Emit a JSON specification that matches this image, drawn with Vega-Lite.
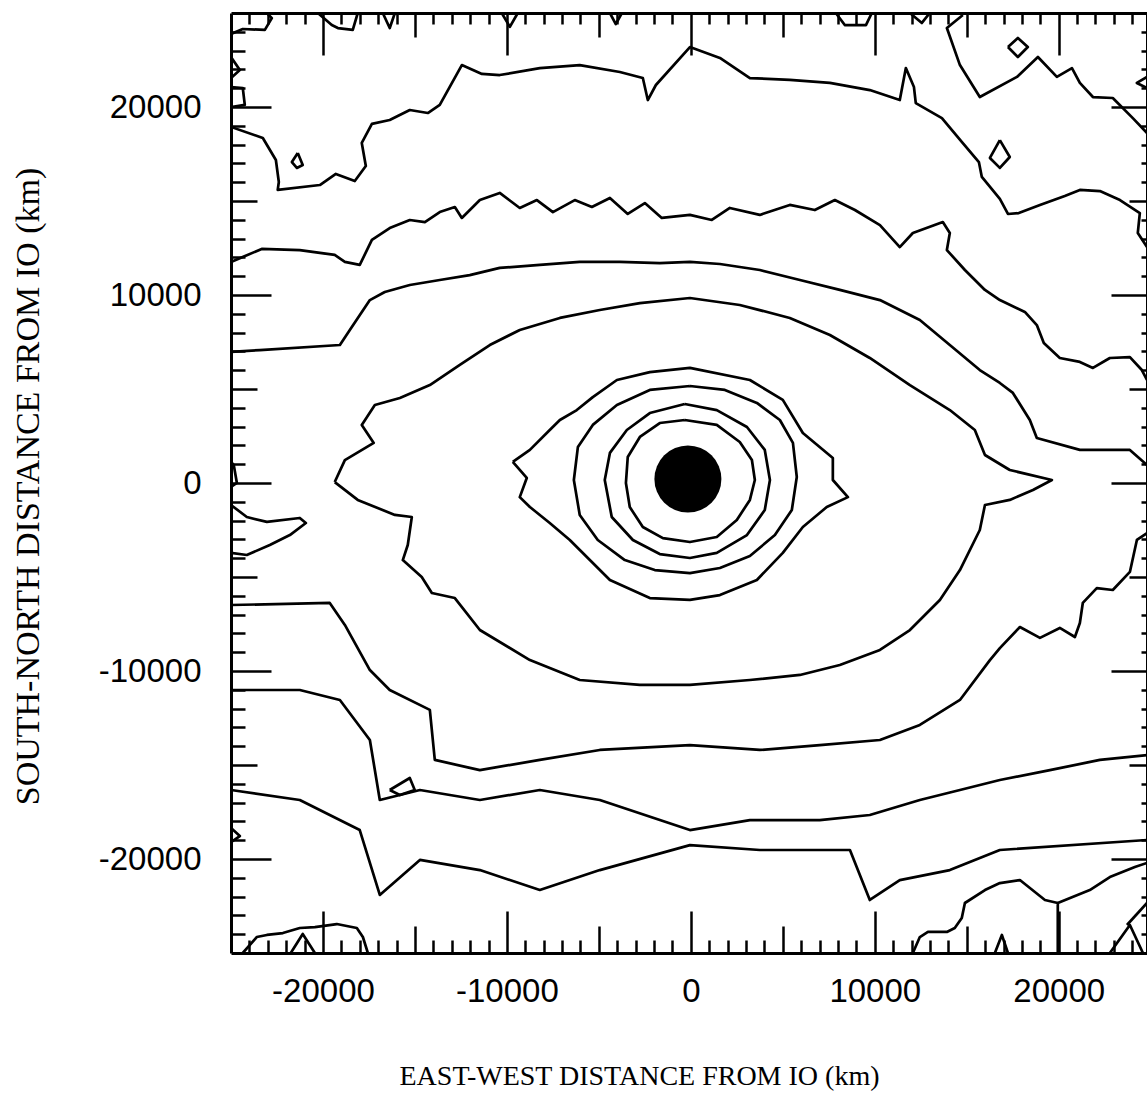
{
  "$schema": "https://vega.github.io/schema/vega-lite/v6.json",
  "width": 916,
  "height": 940,
  "autosize": "none",
  "padding": {"left": 231, "top": 13, "right": 0, "bottom": 146},
  "background": "white",
  "config": {
    "view": {"stroke": null},
    "axis": {"grid": false, "domainColor": "black", "tickColor": "black", "labelColor": "black", "titleColor": "black", "domainWidth": 3, "tickWidth": 2.5}
  },
  "datasets": {
    "io": [{"x": -160, "y": 210}],
    "cont": [
      {"c":"C0","i":0,"x":14790,"y":24890},{"c":"C0","i":1,"x":13920,"y":24200},{"c":"C0","i":2,"x":14630,"y":22230},{"c":"C0","i":3,"x":15710,"y":20530},{"c":"C0","i":4,"x":17730,"y":21600},{"c":"C0","i":5,"x":18870,"y":22660},{"c":"C0","i":6,"x":19900,"y":21600},{"c":"C0","i":7,"x":20720,"y":22070},{"c":"C0","i":8,"x":21150,"y":21280},{"c":"C0","i":9,"x":21860,"y":20530},{"c":"C0","i":10,"x":22940,"y":20480},{"c":"C0","i":11,"x":24030,"y":19410},{"c":"C0","i":12,"x":24800,"y":18620},

      {"c":"C1","i":0,"x":-25000,"y":18940},{"c":"C1","i":1,"x":-23270,"y":18350},{"c":"C1","i":2,"x":-22560,"y":17180},{"c":"C1","i":3,"x":-22400,"y":16010},{"c":"C1","i":4,"x":-22460,"y":15590},{"c":"C1","i":5,"x":-20170,"y":15850},{"c":"C1","i":6,"x":-19300,"y":16440},{"c":"C1","i":7,"x":-18270,"y":16060},{"c":"C1","i":8,"x":-17670,"y":16860},{"c":"C1","i":9,"x":-17890,"y":18090},{"c":"C1","i":10,"x":-17340,"y":19100},{"c":"C1","i":11,"x":-16370,"y":19310},{"c":"C1","i":12,"x":-15280,"y":19840},{"c":"C1","i":13,"x":-14300,"y":19680},{"c":"C1","i":14,"x":-13650,"y":20110},{"c":"C1","i":15,"x":-12450,"y":22230},{"c":"C1","i":16,"x":-11360,"y":21760},{"c":"C1","i":17,"x":-10390,"y":21700},{"c":"C1","i":18,"x":-8210,"y":22070},{"c":"C1","i":19,"x":-6040,"y":22230},{"c":"C1","i":20,"x":-3860,"y":21860},{"c":"C1","i":21,"x":-2610,"y":21540},{"c":"C1","i":22,"x":-2340,"y":20370},{"c":"C1","i":23,"x":-1900,"y":21170},{"c":"C1","i":24,"x":-50,"y":23190},{"c":"C1","i":25,"x":1580,"y":22610},{"c":"C1","i":26,"x":3210,"y":21540},{"c":"C1","i":27,"x":5380,"y":21440},{"c":"C1","i":28,"x":7560,"y":21280},{"c":"C1","i":29,"x":9730,"y":20900},{"c":"C1","i":30,"x":11360,"y":20370},{"c":"C1","i":31,"x":11690,"y":22070},{"c":"C1","i":32,"x":12130,"y":21060},{"c":"C1","i":33,"x":12230,"y":20210},{"c":"C1","i":34,"x":13650,"y":19410},{"c":"C1","i":35,"x":14730,"y":18140},{"c":"C1","i":36,"x":15660,"y":17070},{"c":"C1","i":37,"x":15820,"y":16280},{"c":"C1","i":38,"x":16800,"y":15110},{"c":"C1","i":39,"x":17240,"y":14310},{"c":"C1","i":40,"x":17830,"y":14360},{"c":"C1","i":41,"x":18980,"y":14790},{"c":"C1","i":42,"x":20330,"y":15270},{"c":"C1","i":43,"x":21150,"y":15590},{"c":"C1","i":44,"x":22240,"y":15530},{"c":"C1","i":45,"x":23330,"y":15050},{"c":"C1","i":46,"x":24410,"y":14360},{"c":"C1","i":47,"x":24300,"y":13300},{"c":"C1","i":48,"x":24800,"y":12550},

      {"c":"C2a","i":0,"x":-25000,"y":11760},{"c":"C2a","i":1,"x":-23330,"y":12450},{"c":"C2a","i":2,"x":-21260,"y":12390},{"c":"C2a","i":3,"x":-19360,"y":12130},{"c":"C2a","i":4,"x":-18810,"y":11760},{"c":"C2a","i":5,"x":-18000,"y":11600},{"c":"C2a","i":6,"x":-17340,"y":12930},{"c":"C2a","i":7,"x":-16370,"y":13560},{"c":"C2a","i":8,"x":-15280,"y":13990},{"c":"C2a","i":9,"x":-14460,"y":13880},{"c":"C2a","i":10,"x":-13650,"y":14410},{"c":"C2a","i":11,"x":-12830,"y":14680},{"c":"C2a","i":12,"x":-12450,"y":14100},{"c":"C2a","i":13,"x":-11470,"y":15050},{"c":"C2a","i":14,"x":-10390,"y":15430},{"c":"C2a","i":15,"x":-9300,"y":14630},{"c":"C2a","i":16,"x":-8370,"y":15050},{"c":"C2a","i":17,"x":-7500,"y":14410},{"c":"C2a","i":18,"x":-6310,"y":15050},{"c":"C2a","i":19,"x":-5380,"y":14680},{"c":"C2a","i":20,"x":-4400,"y":15160},{"c":"C2a","i":21,"x":-3430,"y":14310},{"c":"C2a","i":22,"x":-2500,"y":14890},{"c":"C2a","i":23,"x":-1580,"y":14100},{"c":"C2a","i":24,"x":-50,"y":14260},{"c":"C2a","i":25,"x":1140,"y":13990},{"c":"C2a","i":26,"x":2120,"y":14630},{"c":"C2a","i":27,"x":3750,"y":14260},{"c":"C2a","i":28,"x":5380,"y":14790},{"c":"C2a","i":29,"x":6740,"y":14520},{"c":"C2a","i":30,"x":7830,"y":15050},{"c":"C2a","i":31,"x":8920,"y":14520},{"c":"C2a","i":32,"x":10280,"y":13720},{"c":"C2a","i":33,"x":11360,"y":12550},{"c":"C2a","i":34,"x":12070,"y":13300},{"c":"C2a","i":35,"x":13700,"y":13880},{"c":"C2a","i":36,"x":14080,"y":13300},{"c":"C2a","i":37,"x":13920,"y":12390},{"c":"C2a","i":38,"x":14900,"y":11330},{"c":"C2a","i":39,"x":15990,"y":10270},{"c":"C2a","i":40,"x":16800,"y":9730},{"c":"C2a","i":41,"x":18160,"y":9100},{"c":"C2a","i":42,"x":18810,"y":8400},{"c":"C2a","i":43,"x":19190,"y":7450},{"c":"C2a","i":44,"x":20060,"y":6650},{"c":"C2a","i":45,"x":21150,"y":6440},{"c":"C2a","i":46,"x":21860,"y":6120},{"c":"C2a","i":47,"x":22780,"y":6650},{"c":"C2a","i":48,"x":23870,"y":6700},{"c":"C2a","i":49,"x":24520,"y":6010},{"c":"C2a","i":50,"x":24800,"y":5480},

      {"c":"C3a","i":0,"x":-25000,"y":6970},{"c":"C3a","i":1,"x":-23430,"y":7070},{"c":"C3a","i":2,"x":-19080,"y":7340},{"c":"C3a","i":3,"x":-18540,"y":8140},{"c":"C3a","i":4,"x":-17450,"y":9730},{"c":"C3a","i":5,"x":-16640,"y":10160},{"c":"C3a","i":6,"x":-15280,"y":10530},{"c":"C3a","i":7,"x":-13650,"y":10800},{"c":"C3a","i":8,"x":-12020,"y":11060},{"c":"C3a","i":9,"x":-10390,"y":11440},{"c":"C3a","i":10,"x":-8210,"y":11600},{"c":"C3a","i":11,"x":-6040,"y":11760},{"c":"C3a","i":12,"x":-3860,"y":11760},{"c":"C3a","i":13,"x":-1690,"y":11700},{"c":"C3a","i":14,"x":-50,"y":11760},{"c":"C3a","i":15,"x":1580,"y":11650},{"c":"C3a","i":16,"x":3750,"y":11330},{"c":"C3a","i":17,"x":5930,"y":10800},{"c":"C3a","i":18,"x":8100,"y":10270},{"c":"C3a","i":19,"x":10280,"y":9730},{"c":"C3a","i":20,"x":12450,"y":8670},{"c":"C3a","i":21,"x":14080,"y":7340},{"c":"C3a","i":22,"x":15710,"y":6010},{"c":"C3a","i":23,"x":16800,"y":5320},{"c":"C3a","i":24,"x":17510,"y":4790},{"c":"C3a","i":25,"x":18430,"y":3350},{"c":"C3a","i":26,"x":18810,"y":2390},{"c":"C3a","i":27,"x":21150,"y":1760},{"c":"C3a","i":28,"x":23870,"y":1760},{"c":"C3a","i":29,"x":24800,"y":960},

      {"c":"C5","i":0,"x":-19360,"y":50},{"c":"C5","i":1,"x":-18810,"y":1220},{"c":"C5","i":2,"x":-17240,"y":2130},{"c":"C5","i":3,"x":-17890,"y":3090},{"c":"C5","i":4,"x":-17180,"y":4150},{"c":"C5","i":5,"x":-15820,"y":4520},{"c":"C5","i":6,"x":-14190,"y":5210},{"c":"C5","i":7,"x":-12560,"y":6280},{"c":"C5","i":8,"x":-10930,"y":7340},{"c":"C5","i":9,"x":-9300,"y":8140},{"c":"C5","i":10,"x":-7120,"y":8780},{"c":"C5","i":11,"x":-4950,"y":9200},{"c":"C5","i":12,"x":-2770,"y":9570},{"c":"C5","i":13,"x":-50,"y":9840},{"c":"C5","i":14,"x":2660,"y":9470},{"c":"C5","i":15,"x":5380,"y":8780},{"c":"C5","i":16,"x":7560,"y":7870},{"c":"C5","i":17,"x":9730,"y":6650},{"c":"C5","i":18,"x":11910,"y":5210},{"c":"C5","i":19,"x":14080,"y":3880},{"c":"C5","i":20,"x":15440,"y":2820},{"c":"C5","i":21,"x":15990,"y":1490},{"c":"C5","i":22,"x":17340,"y":690},{"c":"C5","i":23,"x":19630,"y":160},{"c":"C5","i":24,"x":18600,"y":-370},{"c":"C5","i":25,"x":17340,"y":-900},{"c":"C5","i":26,"x":15990,"y":-1170},{"c":"C5","i":27,"x":15710,"y":-2500},{"c":"C5","i":28,"x":14630,"y":-4630},{"c":"C5","i":29,"x":13540,"y":-6220},{"c":"C5","i":30,"x":11910,"y":-7820},{"c":"C5","i":31,"x":10280,"y":-8880},{"c":"C5","i":32,"x":8100,"y":-9680},{"c":"C5","i":33,"x":5930,"y":-10210},{"c":"C5","i":34,"x":3210,"y":-10480},{"c":"C5","i":35,"x":-50,"y":-10740},{"c":"C5","i":36,"x":-2770,"y":-10740},{"c":"C5","i":37,"x":-6040,"y":-10480},{"c":"C5","i":38,"x":-8750,"y":-9420},{"c":"C5","i":39,"x":-11470,"y":-7820},{"c":"C5","i":40,"x":-12830,"y":-6120},{"c":"C5","i":41,"x":-14080,"y":-5850},{"c":"C5","i":42,"x":-14630,"y":-5000},{"c":"C5","i":43,"x":-15660,"y":-4100},{"c":"C5","i":44,"x":-15390,"y":-3300},{"c":"C5","i":45,"x":-15170,"y":-1810},{"c":"C5","i":46,"x":-16090,"y":-1700},{"c":"C5","i":47,"x":-18110,"y":-900},{"c":"C5","i":48,"x":-19360,"y":50},

      {"c":"C6","i":0,"x":-9680,"y":1120},{"c":"C6","i":1,"x":-8750,"y":1760},{"c":"C6","i":2,"x":-7670,"y":2820},{"c":"C6","i":3,"x":-7120,"y":3350},{"c":"C6","i":4,"x":-6200,"y":3880},{"c":"C6","i":5,"x":-5330,"y":4570},{"c":"C6","i":6,"x":-4020,"y":5480},{"c":"C6","i":7,"x":-2230,"y":5900},{"c":"C6","i":8,"x":-50,"y":6120},{"c":"C6","i":9,"x":3210,"y":5480},{"c":"C6","i":10,"x":5000,"y":4420},{"c":"C6","i":11,"x":6090,"y":2660},{"c":"C6","i":12,"x":7720,"y":1330},{"c":"C6","i":13,"x":7720,"y":160},{"c":"C6","i":14,"x":8540,"y":-750},{"c":"C6","i":15,"x":7390,"y":-1280},{"c":"C6","i":16,"x":6090,"y":-2340},{"c":"C6","i":17,"x":5000,"y":-3720},{"c":"C6","i":18,"x":3590,"y":-5160},{"c":"C6","i":19,"x":1580,"y":-5960},{"c":"C6","i":20,"x":-50,"y":-6220},{"c":"C6","i":21,"x":-2230,"y":-6120},{"c":"C6","i":22,"x":-4400,"y":-5160},{"c":"C6","i":23,"x":-5490,"y":-4100},{"c":"C6","i":24,"x":-6580,"y":-3030},{"c":"C6","i":25,"x":-7670,"y":-2130},{"c":"C6","i":26,"x":-8750,"y":-1280},{"c":"C6","i":27,"x":-9300,"y":-750},{"c":"C6","i":28,"x":-8920,"y":270},{"c":"C6","i":29,"x":-9680,"y":1120},

      {"c":"C7","i":0,"x":-50,"y":5160},{"c":"C7","i":1,"x":1850,"y":4950},{"c":"C7","i":2,"x":3590,"y":4260},{"c":"C7","i":3,"x":4840,"y":3350},{"c":"C7","i":4,"x":5550,"y":2130},{"c":"C7","i":5,"x":5760,"y":320},{"c":"C7","i":6,"x":5490,"y":-1440},{"c":"C7","i":7,"x":4570,"y":-2770},{"c":"C7","i":8,"x":3210,"y":-3880},{"c":"C7","i":9,"x":1580,"y":-4520},{"c":"C7","i":10,"x":-50,"y":-4790},{"c":"C7","i":11,"x":-1960,"y":-4630},{"c":"C7","i":12,"x":-3590,"y":-4100},{"c":"C7","i":13,"x":-5060,"y":-3030},{"c":"C7","i":14,"x":-6040,"y":-1700},{"c":"C7","i":15,"x":-6360,"y":160},{"c":"C7","i":16,"x":-6140,"y":1920},{"c":"C7","i":17,"x":-5330,"y":3090},{"c":"C7","i":18,"x":-4020,"y":4150},{"c":"C7","i":19,"x":-2230,"y":4950},{"c":"C7","i":20,"x":-50,"y":5160},

      {"c":"C8","i":0,"x":-330,"y":4200},{"c":"C8","i":1,"x":1410,"y":3880},{"c":"C8","i":2,"x":3050,"y":2980},{"c":"C8","i":3,"x":4020,"y":1760},{"c":"C8","i":4,"x":4300,"y":160},{"c":"C8","i":5,"x":4020,"y":-1440},{"c":"C8","i":6,"x":3050,"y":-2770},{"c":"C8","i":7,"x":1410,"y":-3720},{"c":"C8","i":8,"x":-50,"y":-3990},{"c":"C8","i":9,"x":-1690,"y":-3780},{"c":"C8","i":10,"x":-3150,"y":-3030},{"c":"C8","i":11,"x":-4300,"y":-1810},{"c":"C8","i":12,"x":-4680,"y":160},{"c":"C8","i":13,"x":-4400,"y":1600},{"c":"C8","i":14,"x":-3480,"y":2820},{"c":"C8","i":15,"x":-2230,"y":3720},{"c":"C8","i":16,"x":-330,"y":4200},

      {"c":"C9","i":0,"x":-330,"y":3350},{"c":"C9","i":1,"x":1410,"y":3090},{"c":"C9","i":2,"x":2660,"y":2180},{"c":"C9","i":3,"x":3320,"y":1220},{"c":"C9","i":4,"x":3480,"y":160},{"c":"C9","i":5,"x":3210,"y":-900},{"c":"C9","i":6,"x":2500,"y":-1970},{"c":"C9","i":7,"x":1410,"y":-2870},{"c":"C9","i":8,"x":-50,"y":-3140},{"c":"C9","i":9,"x":-1520,"y":-2930},{"c":"C9","i":10,"x":-2610,"y":-2340},{"c":"C9","i":11,"x":-3320,"y":-1280},{"c":"C9","i":12,"x":-3530,"y":0},{"c":"C9","i":13,"x":-3430,"y":1380},{"c":"C9","i":14,"x":-2770,"y":2450},{"c":"C9","i":15,"x":-1690,"y":3190},{"c":"C9","i":16,"x":-330,"y":3350},

      {"c":"C3b","i":0,"x":-25000,"y":-6490},{"c":"C3b","i":1,"x":-19630,"y":-6380},{"c":"C3b","i":2,"x":-18810,"y":-7550},{"c":"C3b","i":3,"x":-17450,"y":-9950},{"c":"C3b","i":4,"x":-16370,"y":-11010},{"c":"C3b","i":5,"x":-14190,"y":-12070},{"c":"C3b","i":6,"x":-13920,"y":-14730},{"c":"C3b","i":7,"x":-11470,"y":-15270},{"c":"C3b","i":8,"x":-8210,"y":-14730},{"c":"C3b","i":9,"x":-4950,"y":-14200},{"c":"C3b","i":10,"x":-50,"y":-13940},{"c":"C3b","i":11,"x":3750,"y":-14200},{"c":"C3b","i":12,"x":7010,"y":-13940},{"c":"C3b","i":13,"x":10280,"y":-13670},{"c":"C3b","i":14,"x":12450,"y":-12870},{"c":"C3b","i":15,"x":14630,"y":-11540},{"c":"C3b","i":16,"x":16260,"y":-9420},{"c":"C3b","i":17,"x":16800,"y":-8780},{"c":"C3b","i":18,"x":17890,"y":-7660},{"c":"C3b","i":19,"x":18980,"y":-8240},{"c":"C3b","i":20,"x":20060,"y":-7710},{"c":"C3b","i":21,"x":20880,"y":-8190},{"c":"C3b","i":22,"x":21150,"y":-7450},{"c":"C3b","i":23,"x":21310,"y":-6380},{"c":"C3b","i":24,"x":22070,"y":-5590},{"c":"C3b","i":25,"x":22940,"y":-5690},{"c":"C3b","i":26,"x":23870,"y":-4730},{"c":"C3b","i":27,"x":24250,"y":-3030},{"c":"C3b","i":28,"x":24800,"y":-2660},

      {"c":"C2b","i":0,"x":-25000,"y":-11010},{"c":"C2b","i":1,"x":-21260,"y":-11010},{"c":"C2b","i":2,"x":-19080,"y":-11540},{"c":"C2b","i":3,"x":-17450,"y":-13670},{"c":"C2b","i":4,"x":-16910,"y":-16860},{"c":"C2b","i":5,"x":-14730,"y":-16330},{"c":"C2b","i":6,"x":-11470,"y":-16860},{"c":"C2b","i":7,"x":-8210,"y":-16330},{"c":"C2b","i":8,"x":-4950,"y":-16860},{"c":"C2b","i":9,"x":-50,"y":-18460},{"c":"C2b","i":10,"x":3210,"y":-17930},{"c":"C2b","i":11,"x":7010,"y":-17930},{"c":"C2b","i":12,"x":9730,"y":-17660},{"c":"C2b","i":13,"x":12450,"y":-16860},{"c":"C2b","i":14,"x":14630,"y":-16330},{"c":"C2b","i":15,"x":16800,"y":-15800},{"c":"C2b","i":16,"x":19520,"y":-15270},{"c":"C2b","i":17,"x":22240,"y":-14730},{"c":"C2b","i":18,"x":24800,"y":-14470},

      {"c":"C1b","i":0,"x":-25000,"y":-16330},{"c":"C1b","i":1,"x":-21260,"y":-16860},{"c":"C1b","i":2,"x":-18000,"y":-18460},{"c":"C1b","i":3,"x":-16910,"y":-21910},{"c":"C1b","i":4,"x":-14730,"y":-20050},{"c":"C1b","i":5,"x":-11470,"y":-20590},{"c":"C1b","i":6,"x":-8210,"y":-21650},{"c":"C1b","i":7,"x":-4950,"y":-20590},{"c":"C1b","i":8,"x":-50,"y":-19260},{"c":"C1b","i":9,"x":3750,"y":-19520},{"c":"C1b","i":10,"x":8650,"y":-19520},{"c":"C1b","i":11,"x":9730,"y":-22180},{"c":"C1b","i":12,"x":11360,"y":-21120},{"c":"C1b","i":13,"x":14080,"y":-20590},{"c":"C1b","i":14,"x":16800,"y":-19520},{"c":"C1b","i":15,"x":24800,"y":-18990},

      {"c":"D1","i":0,"x":12070,"y":-25000},{"c":"D1","i":1,"x":12450,"y":-24150},{"c":"D1","i":2,"x":12890,"y":-23880},{"c":"D1","i":3,"x":13920,"y":-23880},{"c":"D1","i":4,"x":14350,"y":-23670},{"c":"D1","i":5,"x":14730,"y":-23140},{"c":"D1","i":6,"x":14900,"y":-22340},{"c":"D1","i":7,"x":15990,"y":-21650},{"c":"D1","i":8,"x":16800,"y":-21280},{"c":"D1","i":9,"x":17890,"y":-21120},{"c":"D1","i":10,"x":19250,"y":-22180},{"c":"D1","i":11,"x":19950,"y":-22340},{"c":"D1","i":12,"x":19950,"y":-25000},
      {"c":"D2","i":0,"x":19950,"y":-22340},{"c":"D2","i":1,"x":21690,"y":-21650},{"c":"D2","i":2,"x":22780,"y":-20960},{"c":"D2","i":3,"x":24140,"y":-20430},{"c":"D2","i":4,"x":24800,"y":-20210},

      {"c":"L1","i":0,"x":17240,"y":23190},{"c":"L1","i":1,"x":17780,"y":23670},{"c":"L1","i":2,"x":18320,"y":23190},{"c":"L1","i":3,"x":17780,"y":22660},{"c":"L1","i":4,"x":17240,"y":23190},
      {"c":"L2","i":0,"x":16800,"y":18240},{"c":"L2","i":1,"x":17340,"y":17340},{"c":"L2","i":2,"x":16800,"y":16760},{"c":"L2","i":3,"x":16260,"y":17290},{"c":"L2","i":4,"x":16800,"y":18240},
      {"c":"L3","i":0,"x":-21370,"y":17550},{"c":"L3","i":1,"x":-21100,"y":16910},{"c":"L3","i":2,"x":-21420,"y":16760},{"c":"L3","i":3,"x":-21690,"y":17070},{"c":"L3","i":4,"x":-21370,"y":17550},
      {"c":"L4","i":0,"x":-16370,"y":-16330},{"c":"L4","i":1,"x":-15280,"y":-15690},{"c":"L4","i":2,"x":-15010,"y":-16330},{"c":"L4","i":3,"x":-15820,"y":-16600},{"c":"L4","i":4,"x":-16370,"y":-16330},
      {"c":"L5","i":0,"x":-25000,"y":-1170},{"c":"L5","i":1,"x":-24140,"y":-1810},{"c":"L5","i":2,"x":-23050,"y":-2070},{"c":"L5","i":3,"x":-21260,"y":-1860},{"c":"L5","i":4,"x":-20930,"y":-2130},{"c":"L5","i":5,"x":-21800,"y":-2770},{"c":"L5","i":6,"x":-22890,"y":-3300},{"c":"L5","i":7,"x":-24140,"y":-3830},{"c":"L5","i":8,"x":-25000,"y":-3720},
      {"c":"L6","i":0,"x":-25000,"y":1120},{"c":"L6","i":1,"x":-24850,"y":960},{"c":"L6","i":2,"x":-24680,"y":0},{"c":"L6","i":3,"x":-25000,"y":-210},
      {"c":"L7","i":0,"x":-25000,"y":-18350},{"c":"L7","i":1,"x":-24520,"y":-18780},{"c":"L7","i":2,"x":-25000,"y":-19100},
      {"c":"TL1","i":0,"x":-25000,"y":23880},{"c":"TL1","i":1,"x":-24360,"y":24150},{"c":"TL1","i":2,"x":-23160,"y":24100},{"c":"TL1","i":3,"x":-22780,"y":24730},{"c":"TL1","i":4,"x":-23050,"y":25000},
      {"c":"TL2","i":0,"x":-20280,"y":25000},{"c":"TL2","i":1,"x":-19520,"y":24360},{"c":"TL2","i":2,"x":-19190,"y":24200},{"c":"TL2","i":3,"x":-18380,"y":24100},{"c":"TL2","i":4,"x":-18110,"y":25000},
      {"c":"TL3","i":0,"x":-16750,"y":25000},{"c":"TL3","i":1,"x":-16370,"y":24200},{"c":"TL3","i":2,"x":-16090,"y":25000},
      {"c":"TL4","i":0,"x":-25000,"y":22660},{"c":"TL4","i":1,"x":-24520,"y":21970},{"c":"TL4","i":2,"x":-25000,"y":21540},
      {"c":"TL5","i":0,"x":-25000,"y":21060},{"c":"TL5","i":1,"x":-24360,"y":21010},{"c":"TL5","i":2,"x":-24250,"y":20110},{"c":"TL5","i":3,"x":-25000,"y":20000},
      {"c":"TM1","i":0,"x":-10280,"y":25000},{"c":"TM1","i":1,"x":-9840,"y":24260},{"c":"TM1","i":2,"x":-9410,"y":25000},
      {"c":"TM2","i":0,"x":-4400,"y":25000},{"c":"TM2","i":1,"x":-4080,"y":24410},{"c":"TM2","i":2,"x":-3750,"y":25000},
      {"c":"TM3","i":0,"x":7880,"y":25000},{"c":"TM3","i":1,"x":8370,"y":24360},{"c":"TM3","i":2,"x":9520,"y":24360},{"c":"TM3","i":3,"x":9840,"y":25000},
      {"c":"TR1","i":0,"x":11910,"y":25000},{"c":"TR1","i":1,"x":12560,"y":24470},{"c":"TR1","i":2,"x":12990,"y":25000},
      {"c":"RT1","i":0,"x":24800,"y":21600},{"c":"RT1","i":1,"x":24250,"y":21280},{"c":"RT1","i":2,"x":24800,"y":21010},
      {"c":"B1","i":0,"x":-24360,"y":-25000},{"c":"B1","i":1,"x":-23600,"y":-24150},{"c":"B1","i":2,"x":-23050,"y":-24040},{"c":"B1","i":3,"x":-22180,"y":-23940},{"c":"B1","i":4,"x":-21260,"y":-23670},{"c":"B1","i":5,"x":-20440,"y":-23620},{"c":"B1","i":6,"x":-19250,"y":-23460},{"c":"B1","i":7,"x":-18160,"y":-23670},{"c":"B1","i":8,"x":-17830,"y":-24150},{"c":"B1","i":9,"x":-17560,"y":-25000},
      {"c":"B2","i":0,"x":-21750,"y":-25000},{"c":"B2","i":1,"x":-21100,"y":-23990},{"c":"B2","i":2,"x":-20440,"y":-25000},
      {"c":"B3","i":0,"x":16530,"y":-25000},{"c":"B3","i":1,"x":16910,"y":-24040},{"c":"B3","i":2,"x":17240,"y":-25000},
      {"c":"B4","i":0,"x":22780,"y":-25000},{"c":"B4","i":1,"x":23870,"y":-23510},{"c":"B4","i":2,"x":24580,"y":-25000},
      {"c":"B5","i":0,"x":23710,"y":-23510},{"c":"B5","i":1,"x":24800,"y":-22340}
    ]
  },
  "resolve": {"scale": {"x": "shared", "y": "shared"}, "axis": {"x": "independent", "y": "independent"}},
  "layer": [
    {
      "data": {"name": "cont"},
      "mark": {"type": "line", "stroke": "black", "strokeWidth": 2.7, "strokeJoin": "round", "clip": true},
      "encoding": {
        "x": {"field": "x", "type": "quantitative", "scale": {"domain": [-25000, 24800], "nice": false, "zero": false},
          "axis": {"orient": "bottom", "values": [-20000, -10000, 0, 10000, 20000], "ticks": false, "domain": true, "labelExpr": "'' + datum.value", "labelFont": "Liberation Sans", "labelFontSize": 33, "labelPadding": 22, "labelFlush": false, "labelOverlap": false,
            "title": "EAST-WEST DISTANCE FROM IO (km)", "titleFont": "Liberation Serif", "titleFontSize": 28, "titleFontWeight": "normal", "titleX": 408, "titleY": 131, "titleBaseline": "alphabetic", "titleAlign": "center"}},
        "y": {"field": "y", "type": "quantitative", "scale": {"domain": [-25000, 25000], "nice": false, "zero": false},
          "axis": {"orient": "left", "values": [-20000, -10000, 0, 10000, 20000], "ticks": false, "domain": true, "labelExpr": "'' + datum.value", "labelFont": "Liberation Sans", "labelFontSize": 33, "labelPadding": 30, "labelFlush": false, "labelOverlap": false,
            "title": "SOUTH-NORTH DISTANCE FROM IO (km)", "titleFont": "Liberation Serif", "titleFontSize": 34, "titleFontWeight": "normal", "titleX": -203, "titleY": 473, "titleBaseline": "middle", "titleAlign": "center", "titleAngle": 270}},
        "detail": {"field": "c", "type": "nominal"},
        "order": {"field": "i", "type": "quantitative"}
      }
    },
    {
      "data": {"name": "io"},
      "mark": {"type": "point", "shape": "circle", "filled": true, "color": "black", "opacity": 1, "size": 4489},
      "encoding": {
        "x": {"field": "x", "type": "quantitative", "scale": {"domain": [-25000, 24800], "nice": false, "zero": false}, "axis": null},
        "y": {"field": "y", "type": "quantitative", "scale": {"domain": [-25000, 25000], "nice": false, "zero": false}, "axis": null}
      }
    },
    {
      "data": {"name": "io"},
      "mark": {"type": "point", "opacity": 0},
      "encoding": {
        "x": {"field": "x", "type": "quantitative", "scale": {"domain": [-25000, 24800], "nice": false, "zero": false},
          "axis": {"orient": "bottom", "values": [-20000, -10000, 0, 10000, 20000], "tickSize": -42, "labels": false, "domain": false, "title": null}},
        "y": {"field": "y", "type": "quantitative", "scale": {"domain": [-25000, 25000], "nice": false, "zero": false},
          "axis": {"orient": "left", "values": [-20000, -10000, 0, 10000, 20000], "tickSize": -40, "labels": false, "domain": false, "title": null}}
      }
    },
    {
      "data": {"name": "io"},
      "mark": {"type": "point", "opacity": 0},
      "encoding": {
        "x": {"field": "x", "type": "quantitative", "scale": {"domain": [-25000, 24800], "nice": false, "zero": false},
          "axis": {"orient": "top", "values": [-20000, -10000, 0, 10000, 20000], "tickSize": -42, "labels": false, "domain": true, "title": null}},
        "y": {"field": "y", "type": "quantitative", "scale": {"domain": [-25000, 25000], "nice": false, "zero": false},
          "axis": {"orient": "right", "values": [-20000, -10000, 0, 10000, 20000], "tickSize": -36, "labels": false, "domain": true, "title": null}}
      }
    },
    {
      "data": {"name": "io"},
      "mark": {"type": "point", "opacity": 0},
      "encoding": {
        "x": {"field": "x", "type": "quantitative", "scale": {"domain": [-25000, 24800], "nice": false, "zero": false},
          "axis": {"orient": "bottom", "values": [-15000, -5000, 5000, 15000], "tickSize": -27, "labels": false, "domain": false, "title": null}},
        "y": {"field": "y", "type": "quantitative", "scale": {"domain": [-25000, 25000], "nice": false, "zero": false},
          "axis": {"orient": "left", "values": [-15000, -5000, 5000, 15000], "tickSize": -26, "labels": false, "domain": false, "title": null}}
      }
    },
    {
      "data": {"name": "io"},
      "mark": {"type": "point", "opacity": 0},
      "encoding": {
        "x": {"field": "x", "type": "quantitative", "scale": {"domain": [-25000, 24800], "nice": false, "zero": false},
          "axis": {"orient": "top", "values": [-15000, -5000, 5000, 15000], "tickSize": -24, "labels": false, "domain": false, "title": null}},
        "y": {"field": "y", "type": "quantitative", "scale": {"domain": [-25000, 25000], "nice": false, "zero": false},
          "axis": {"orient": "right", "values": [-15000, -5000, 5000, 15000], "tickSize": -18, "labels": false, "domain": false, "title": null}}
      }
    },
    {
      "data": {"name": "io"},
      "mark": {"type": "point", "opacity": 0},
      "encoding": {
        "x": {"field": "x", "type": "quantitative", "scale": {"domain": [-25000, 24800], "nice": false, "zero": false},
          "axis": {"orient": "bottom", "values": [-24000,-23000,-22000,-21000,-19000,-18000,-17000,-16000,-14000,-13000,-12000,-11000,-9000,-8000,-7000,-6000,-4000,-3000,-2000,-1000,1000,2000,3000,4000,6000,7000,8000,9000,11000,12000,13000,14000,16000,17000,18000,19000,21000,22000,23000,24000], "tickSize": -13, "labels": false, "domain": false, "title": null}},
        "y": {"field": "y", "type": "quantitative", "scale": {"domain": [-25000, 25000], "nice": false, "zero": false},
          "axis": {"orient": "left", "values": [-24000,-23000,-22000,-21000,-19000,-18000,-17000,-16000,-14000,-13000,-12000,-11000,-9000,-8000,-7000,-6000,-4000,-3000,-2000,-1000,1000,2000,3000,4000,6000,7000,8000,9000,11000,12000,13000,14000,16000,17000,18000,19000,21000,22000,23000,24000], "tickSize": -14, "labels": false, "domain": false, "title": null}}
      }
    },
    {
      "data": {"name": "io"},
      "mark": {"type": "point", "opacity": 0},
      "encoding": {
        "x": {"field": "x", "type": "quantitative", "scale": {"domain": [-25000, 24800], "nice": false, "zero": false},
          "axis": {"orient": "top", "values": [-24000,-23000,-22000,-21000,-19000,-18000,-17000,-16000,-14000,-13000,-12000,-11000,-9000,-8000,-7000,-6000,-4000,-3000,-2000,-1000,1000,2000,3000,4000,6000,7000,8000,9000,11000,12000,13000,14000,16000,17000,18000,19000,21000,22000,23000,24000], "tickSize": -11, "labels": false, "domain": false, "title": null}},
        "y": {"field": "y", "type": "quantitative", "scale": {"domain": [-25000, 25000], "nice": false, "zero": false},
          "axis": {"orient": "right", "values": [-24000,-23000,-22000,-21000,-19000,-18000,-17000,-16000,-14000,-13000,-12000,-11000,-9000,-8000,-7000,-6000,-4000,-3000,-2000,-1000,1000,2000,3000,4000,6000,7000,8000,9000,11000,12000,13000,14000,16000,17000,18000,19000,21000,22000,23000,24000], "tickSize": -6, "labels": false, "domain": false, "title": null}}
      }
    }
  ]
}
